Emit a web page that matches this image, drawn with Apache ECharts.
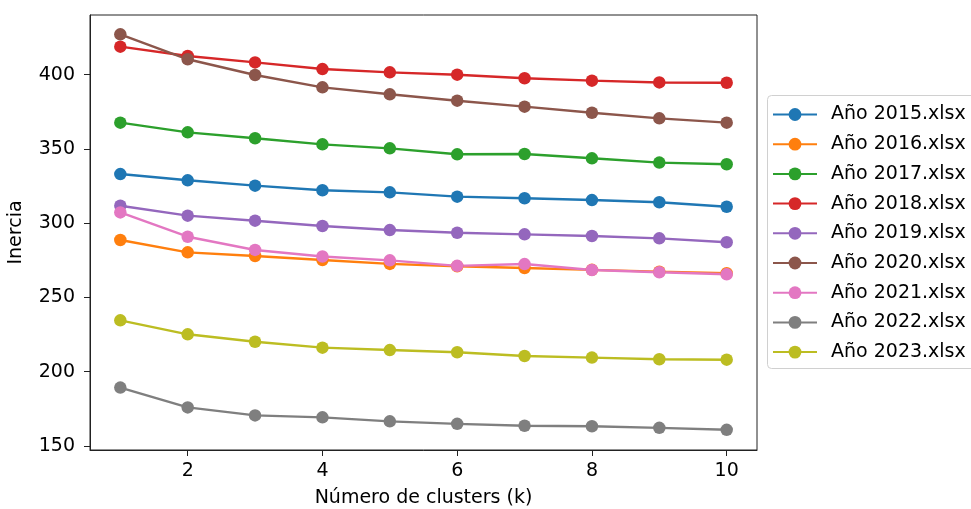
<!DOCTYPE html>
<html>
<head>
<meta charset="utf-8">
<script src="https://cdn.jsdelivr.net/npm/echarts@6/dist/echarts.min.js"></script>
<style>
html,body{margin:0;padding:0;background:#fff;}
#chart{width:971px;height:509px;}
</style>
</head>
<body>
<div id="chart"></div>
<script>
const kValues = [1, 2, 3, 4, 5, 6, 7, 8, 9, 10];
const seriesNames = ["Año 2015.xlsx", "Año 2016.xlsx", "Año 2017.xlsx", "Año 2018.xlsx", "Año 2019.xlsx", "Año 2020.xlsx", "Año 2021.xlsx", "Año 2022.xlsx", "Año 2023.xlsx"];
const y2015 = [333.1, 328.9, 325.3, 322.2, 320.8, 317.9, 316.8, 315.6, 314.1, 311.1];
const y2016 = [288.7, 280.4, 277.9, 275.2, 272.6, 271.0, 269.8, 268.6, 267.4, 266.3];
const y2017 = [367.7, 361.2, 357.2, 353.1, 350.4, 346.4, 346.6, 343.7, 340.8, 339.7];
const y2018 = [418.9, 412.6, 408.3, 403.8, 401.6, 400.0, 397.6, 396.0, 394.8, 394.6];
const y2019 = [311.8, 305.1, 301.7, 298.1, 295.4, 293.6, 292.5, 291.4, 289.8, 287.2];
const y2020 = [427.2, 410.4, 399.8, 391.5, 386.8, 382.5, 378.5, 374.4, 370.6, 367.7];
const y2021 = [307.3, 290.9, 282.0, 277.6, 275.0, 271.3, 272.5, 268.5, 267.0, 265.6];
const y2022 = [189.3, 176.0, 170.6, 169.3, 166.6, 164.9, 163.6, 163.3, 162.2, 160.9];
const y2023 = [234.6, 225.2, 220.2, 216.2, 214.6, 213.1, 210.6, 209.5, 208.4, 208.1];
const xTicks = [2, 4, 6, 8, 10];
const yTicks = [150, 200, 250, 300, 350, 400];
const colors = ["#1f77b4", "#ff7f0e", "#2ca02c", "#d62728", "#9467bd", "#8c564b", "#e377c2", "#7f7f7f", "#bcbd22"];

const allY = [y2015, y2016, y2017, y2018, y2019, y2020, y2021, y2022, y2023];
const fontFam = "DejaVu Sans";

const chart = echarts.init(document.getElementById('chart'), null, {renderer: 'canvas'});
const series = allY.map((vals, i) => ({
  name: seriesNames[i],
  type: 'line',
  data: kValues.map((k, j) => [k, vals[j]]),
  symbol: 'circle',
  symbolSize: 12.5,
  showSymbol: true,
  lineStyle: {width: 2.4, color: colors[i]},
  itemStyle: {color: colors[i]},
  emphasis: {disabled: true},
  animation: false
}));

chart.setOption({
  backgroundColor: '#ffffff',
  animation: false,
  color: colors,
  graphic: [{
    type: 'rect', z: 0, silent: true,
    shape: {x: 767.5, y: 95.5, width: 260, height: 273, r: 4},
    style: {fill: '#fff', stroke: '#d0d0d0', lineWidth: 1}
  }],
  grid: {left: 90, top: 15, right: 214, bottom: 59, outerBoundsMode: 'none', containLabel: false, show: true, borderColor: '#222', borderWidth: 1, backgroundColor: 'transparent'},
  xAxis: {
    type: 'value', min: 0.55, max: 10.45,
    name: 'Número de clusters (k)', nameLocation: 'middle', nameGap: 39,
    nameTextStyle: {fontFamily: fontFam, fontSize: 19, color: '#000'},
    axisLine: {show: true, onZero: false, lineStyle: {color: '#222', width: 1}},
    axisTick: {show: true, length: 6, lineStyle: {color: '#222'}, customValues: xTicks},
    axisLabel: {fontFamily: fontFam, fontSize: 19, color: '#000', margin: 12, customValues: xTicks},
    splitLine: {show: false}
  },
  yAxis: {
    type: 'value', min: 147.3, max: 440.2,
    name: 'Inercia', nameLocation: 'middle', nameGap: 64, nameRotate: 90,
    nameTextStyle: {fontFamily: fontFam, fontSize: 19, color: '#000'},
    axisLine: {show: true, onZero: false, lineStyle: {color: '#222', width: 1}},
    axisTick: {show: true, length: 6, lineStyle: {color: '#222'}, customValues: yTicks},
    axisLabel: {fontFamily: fontFam, fontSize: 19, color: '#000', margin: 15, customValues: yTicks},
    splitLine: {show: false}
  },
  legend: {
    orient: 'vertical', left: 767, top: 95, z: 10,
    padding: [10, 10, 10, 5],
    itemWidth: 44, itemHeight: 16, itemGap: 10.7,
    borderWidth: 0,
    backgroundColor: 'transparent',
    textStyle: {fontFamily: fontFam, fontSize: 19, color: '#000', padding: [0, 0, 0, 9]},
    data: seriesNames
  },
  series: series
});
</script>
</body>
</html>
